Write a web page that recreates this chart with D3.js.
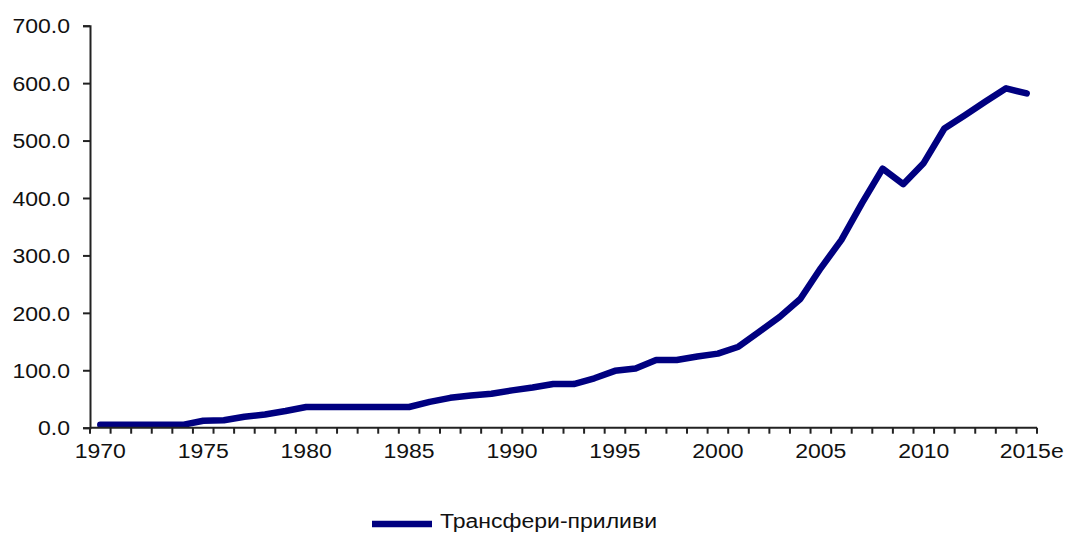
<!DOCTYPE html>
<html>
<head>
<meta charset="utf-8">
<script src="https://cdn.jsdelivr.net/npm/d3@7"></script>
<style>
  html, body { margin: 0; padding: 0; background: #fff; }
  svg { display: block; }
  text { font-family: "Liberation Sans", Arial, sans-serif; fill: #111; }
</style>
</head>
<body>
<svg id="chart" width="1071" height="533"></svg>
<script>
// Annual transfer inflows, 1970 – 2015 (2015 estimated)
const years = d3.range(1970, 2016);
const yearLabels = years.map(y => (y === 2015 ? "2015e" : String(y)));
const inflows = [
  5, 5, 5, 5, 5, 12, 13, 19, 23, 29,
  36, 36, 36, 36, 36, 36, 45, 52, 56, 59,
  65, 70, 76, 76, 86, 99, 103, 118, 118, 124,
  129, 141, 167, 193, 224, 278, 327, 391, 451, 424,
  461, 521, 544, 568, 591, 582
];
const yTicks = [0, 100, 200, 300, 400, 500, 600, 700];
const seriesName = "Трансфери-приливи";

const svg = d3.select("#chart");
const W = 1071;
const x0 = 90, x1 = W - 34;
const y0 = 427.7, y1 = 25.7;
const fontSize = "20px";
const stretch = 1.15; // wide lettering

const x = d3.scaleBand().domain(yearLabels).range([x0, x1]).paddingInner(0).paddingOuter(0);
const y = d3.scaleLinear().domain([0, 700]).range([y0, y1]);

// series line
const line = d3.line()
  .x((d, i) => x(yearLabels[i]) + x.bandwidth() / 2)
  .y(d => y(d));

svg.append("path")
  .datum(inflows)
  .attr("d", line)
  .attr("fill", "none")
  .attr("stroke", "#000080")
  .attr("stroke-width", 6.5)
  .attr("stroke-linejoin", "round")
  .attr("stroke-linecap", "round");

// y axis
const yAxis = svg.append("g")
  .attr("transform", `translate(${x0},0)`)
  .call(d3.axisLeft(y).tickValues(yTicks).tickFormat(d3.format(".1f")).tickSize(7).tickPadding(13));
yAxis.select(".domain").attr("stroke", "#222").attr("stroke-width", 2);
yAxis.selectAll(".tick line").attr("stroke", "#222").attr("stroke-width", 2);
yAxis.selectAll("text").style("font-size", fontSize).attr("fill", "#111").attr("dy", "0.36em");

// x axis: ticks between categories, labels every 5 years
const xg = svg.append("g").attr("transform", `translate(0,${y0})`);
xg.append("line")
  .attr("x1", x0).attr("x2", x1)
  .attr("stroke", "#222").attr("stroke-width", 2);
const boundaries = yearLabels.map(l => x(l)).concat([x1]);
xg.selectAll("line.tk").data(boundaries).enter().append("line")
  .attr("class", "tk")
  .attr("x1", d => d).attr("x2", d => d)
  .attr("y1", 0).attr("y2", 6)
  .attr("stroke", "#222").attr("stroke-width", 2);
xg.selectAll("text").data(yearLabels.filter((l, i) => i % 5 === 0)).enter().append("text")
  .attr("x", d => x(d) + x.bandwidth() / 2 + (d === "2015e" ? 5 : 0))
  .attr("y", 30)
  .attr("text-anchor", "middle")
  .style("font-size", fontSize)
  .text(d => d);

// legend
const lg = svg.append("g").attr("transform", "translate(372,524)");
lg.append("line").attr("x1", 0).attr("x2", 60).attr("y1", 0).attr("y2", 0)
  .attr("stroke", "#000080").attr("stroke-width", 6.5);
lg.append("text").attr("x", 68).attr("y", 4).style("font-size", fontSize).text(seriesName);

// widen all lettering horizontally
svg.selectAll("text").each(function () {
  const w = this.getComputedTextLength();
  d3.select(this).attr("textLength", w * stretch).attr("lengthAdjust", "spacingAndGlyphs");
});
</script>
</body>
</html>
